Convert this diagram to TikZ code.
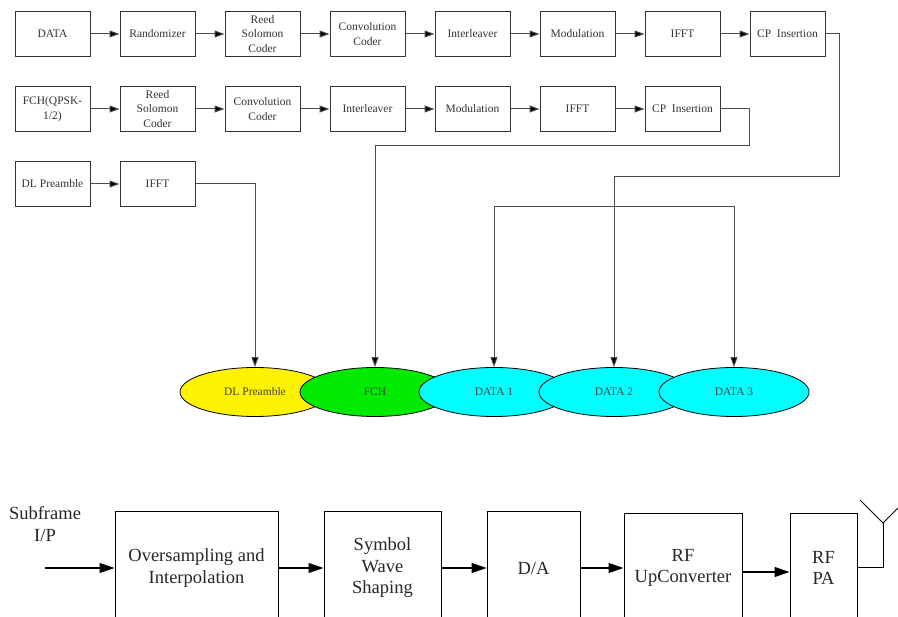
\documentclass[tikz,border=0pt]{standalone}
\usepackage{fontspec}
\setmainfont{Liberation Serif}
\usetikzlibrary{arrows.meta,shapes.geometric}
\definecolor{fchgreen}{RGB}{0,235,0}
\definecolor{slotcyan}{RGB}{0,255,255}
\tikzset{
  blk/.style={draw=black!80, line width=1pt, minimum width=75pt, minimum height=45pt, inner sep=1pt, align=center, font=\fontsize{11.5}{14.5}\selectfont, text=black!80},
  arr/.style={draw=black!70, line width=1pt, -{Triangle[length=10pt,width=7pt,fill=black]}},
  slot/.style={ellipse, draw=black, line width=0.8pt, minimum width=150pt, minimum height=49pt, inner sep=0pt, font=\fontsize{11.5}{14.5}\selectfont, text=black!75},
  big/.style={draw=black, line width=1pt, minimum height=112pt, inner sep=2pt, align=center, font=\fontsize{18.5}{21.5}\selectfont, text=black!85},
  bigarr/.style={draw=black, line width=1.2pt, -{Triangle[length=15pt,width=10pt]}}
}
\begin{document}
\begin{tikzpicture}[x=1pt,y=-1pt]
    \useasboundingbox (0,0) rectangle (898,617);
    \clip (0,0) rectangle (898,617);

    %data chain
    \node[blk] (data) at (52.5,34) {DATA};
    \node[blk] (rand) at (157.5,34) {Randomizer};
    \node[blk] (rs1) at (262.5,34) {Reed\\Solomon\\Coder};
    \node[blk] (cc1) at (367.5,34) {Convolution\\Coder};
    \node[blk] (il1) at (472.5,34) {Interleaver};
    \node[blk] (mod1) at (577.5,34) {Modulation};
    \node[blk] (ifft1) at (682.5,34) {IFFT};
    \node[blk] (cp1) at (787.5,34) {CP\ \ Insertion};

    %fch chain
    \node[blk] (fchin) at (52.5,109) {FCH(QPSK-\\1/2)};
    \node[blk] (rs2) at (157.5,109) {Reed\\Solomon\\Coder};
    \node[blk] (cc2) at (262.5,109) {Convolution\\Coder};
    \node[blk] (il2) at (367.5,109) {Interleaver};
    \node[blk] (mod2) at (472.5,109) {Modulation};
    \node[blk] (ifft2) at (577.5,109) {IFFT};
    \node[blk] (cp2) at (682.5,109) {CP\ \ Insertion};

    %preamble chain
    \node[blk] (pre) at (52.5,184) {DL Preamble};
    \node[blk] (ifft3) at (157.5,184) {IFFT};

    %chain arrows
    \draw[arr] (data) -- (rand);
    \draw[arr] (rand) -- (rs1);
    \draw[arr] (rs1) -- (cc1);
    \draw[arr] (cc1) -- (il1);
    \draw[arr] (il1) -- (mod1);
    \draw[arr] (mod1) -- (ifft1);
    \draw[arr] (ifft1) -- (cp1);
    \draw[arr] (fchin) -- (rs2);
    \draw[arr] (rs2) -- (cc2);
    \draw[arr] (cc2) -- (il2);
    \draw[arr] (il2) -- (mod2);
    \draw[arr] (mod2) -- (ifft2);
    \draw[arr] (ifft2) -- (cp2);
    \draw[arr] (pre) -- (ifft3);

    %frame
    \node[slot, fill=yellow] (dl) at (255,392) {DL Preamble};
    \node[slot, fill=fchgreen] (fch) at (375,392) {FCH};
    \node[slot, fill=slotcyan] (d1) at (494,392) {DATA 1};
    \node[slot, fill=slotcyan] (d2) at (614,392) {DATA 2};
    \node[slot, fill=slotcyan] (d3) at (734,392) {DATA 3};

    %mapping
    \coordinate (c1) at (839,177);
    \coordinate (c2) at (749,146);
    \coordinate (j) at (614,207);
    \draw[arr] (cp1.east) -| (c1) -| (d2.north);
    \draw[arr] (j) -| (d1.north);
    \draw[arr] (j) -| (d3.north);
    \draw[arr] (cp2.east) -| (c2) -| (fch.north);
    \draw[arr] (ifft3.east) -| (dl.north);

    %transmitter
    \node[font=\fontsize{18.5}{21.5}\selectfont, align=center, text=black!85] (sub) at (45,524) {Subframe\\I/P};
    \coordinate (in) at (45,568);
    \node[big, minimum width=163pt] (os) at (196.5,568) {Oversampling and\\Interpolation};
    \node[big, minimum width=117pt] (sw) at (382.5,568) {Symbol\\Wave\\Shaping};
    \node[big, minimum width=93pt] (da) at (533.5,568) {D/A};
    \node[big, minimum width=118pt, minimum height=108pt] (up) at (683,568) {RF\\UpConverter};
    \node[big, minimum width=67pt, minimum height=108pt] (pa) at (823.5,568) {RF\\PA};
    \draw[bigarr] (in) -- (os.west);
    \draw[bigarr] (os) -- (sw);
    \draw[bigarr] (sw) -- (da);
    \draw[bigarr] (da) -- (up);
    \draw[bigarr] ([yshift=-4pt]up.east) -- ([yshift=-4pt]pa.west);

    %antenna
    \coordinate (ant) at (883,523);
    \draw[line width=1pt] (pa.east) -| (ant);
    \draw[line width=1pt] (860,500) -- (ant) -- (906,500);
\end{tikzpicture}
\end{document}
